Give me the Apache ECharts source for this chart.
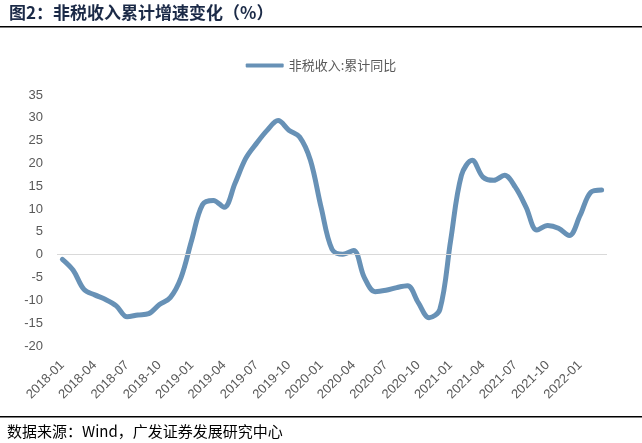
<!DOCTYPE html>
<html><head><meta charset="utf-8">
<script src="https://cdn.jsdelivr.net/npm/echarts@6/dist/echarts.min.js"></script>
<style>html,body{margin:0;padding:0;background:#fff}#c{width:642px;height:443px}</style>
</head><body><div id="c"></div>
<script>
const categories = [];
for (let y = 2018; y <= 2022; y++) {
  for (let m = 1; m <= 12; m++) {
    if (y === 2022 && m > 3) break;
    categories.push(y + '-' + String(m).padStart(2, '0'));
  }
}
const seriesName = '非税收入:累计同比';
const values = [
  -1.0, -3.4, -7.6, -8.8, -9.8, -11.2, -13.6, -13.2, -12.9, -10.9, -9.4, -5.0,
  3.3, 11.0, 11.9, 10.4, 15.6, 21.1, 24.4, 27.3, 29.4, 27.3, 25.8, 20.7,
  10.3, 1.2, 0.1, 0.9, -5.0, -8.1, -7.8, -7.2, -6.8, -10.5, -13.8, -12.0,
  3.1, 17.4, 20.7, 17.0, 16.3, 17.4, 14.8, 10.4, 5.4, 6.4, 5.8, 4.2,
  8.6, 13.7, 14.2
];
const yTicks = { min: -20, max: 35, interval: 5 };
const titleText = '图2：非税收入累计增速变化（%）';
const sourceText = '数据来源：Wind，广发证券发展研究中心';

const chart = echarts.init(document.getElementById('c'), null, { renderer: 'canvas' });
chart.setOption({
  animation: false,
  backgroundColor: '#fff',
  graphic: [
    { type: 'text', left: 9, top: 4, style: { text: titleText, font: 'bold 17px "Noto Sans CJK SC"', fill: '#1b2a47' } },
    { type: 'rect', shape: { x: 0, y: 26, width: 642, height: 1.5 }, style: { fill: '#000' } },
    { type: 'rect', shape: { x: 0, y: 416, width: 642, height: 1.5 }, style: { fill: '#000' } },
    { type: 'text', left: 7, top: 424, style: { text: sourceText, font: '15px "Noto Sans CJK SC"', fill: '#000' } }
  ],
  legend: {
    top: 54, left: 'center',
    itemWidth: 38, itemHeight: 4, itemGap: 4,
    icon: 'roundRect',
    textStyle: { fontFamily: '"Noto Sans CJK SC"', fontSize: 13, color: '#595959' },
    data: [seriesName]
  },
  grid: { left: 57, right: 35, top: 95, bottom: 97 },
  xAxis: {
    type: 'category', data: categories, boundaryGap: true,
    axisLine: { show: false }, axisTick: { show: false },
    axisLabel: { interval: 2, rotate: 45, fontSize: 13, fontFamily: '"Liberation Sans", Arial', color: '#595959', margin: 17 }
  },
  yAxis: {
    type: 'value', min: yTicks.min, max: yTicks.max, interval: yTicks.interval,
    axisLine: { show: false }, axisTick: { show: false }, splitLine: { show: false },
    axisLabel: { fontSize: 13, fontFamily: '"Liberation Sans", Arial', color: '#595959', margin: 14 }
  },
  series: [{
    name: seriesName, type: 'line', data: values, smooth: 0.35,
    showSymbol: false, symbol: 'none',
    lineStyle: { width: 5, color: '#6791b6', cap: 'round' },
    itemStyle: { color: '#6791b6' },
    markLine: {
      silent: true, symbol: 'none', label: { show: false },
      lineStyle: { color: '#d9d9d9', width: 1, type: 'solid' },
      data: [{ yAxis: 0 }]
    },
    z: 3
  }]
});
</script></body></html>
